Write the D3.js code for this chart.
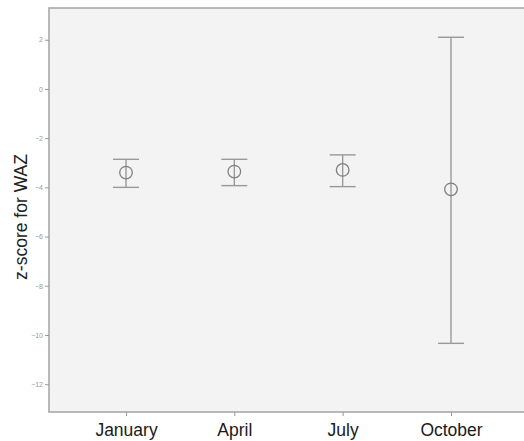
<!DOCTYPE html>
<html>
<head>
<meta charset="utf-8">
<script src="https://cdn.jsdelivr.net/npm/d3@7"></script>
<style>
  body { margin: 0; background: #fff; }
  svg { display: block; font-family: "Liberation Sans", Arial, sans-serif; }
</style>
</head>
<body>
<div id="chart"></div>
<script>
// data
var months = ["January", "April", "July", "October"];
var means  = [-3.40, -3.36, -3.29, -4.08];
var upper  = [-2.86, -2.86, -2.68, 2.10];
var lower  = [-4.00, -3.93, -3.97, -10.34];
var yTicks = [2, 0, -2, -4, -6, -8, -10, -12];

var W = 524, H = 441;
var margin = {top: 8, left: 49, bottom: 29};
var plotRight = 528;

var svg = d3.select("#chart").append("svg")
    .attr("width", W).attr("height", H);

var y = d3.scaleLinear()
    .domain([-13.13, 3.29])
    .range([H - margin.bottom, margin.top]);

var x = d3.scalePoint()
    .domain(months)
    .range([126, 451]);

// plot background + frame
svg.append("rect")
    .attr("x", margin.left).attr("y", margin.top)
    .attr("width", plotRight - margin.left)
    .attr("height", H - margin.bottom - margin.top)
    .attr("fill", "#f3f3f3")
    .attr("stroke", "#a8a8a8")
    .attr("stroke-width", 1.6);

// y axis
var yAxis = svg.append("g")
    .attr("transform", "translate(" + margin.left + ",0)")
    .call(d3.axisLeft(y).tickValues(yTicks).tickSize(4).tickPadding(2).tickFormat(d3.format("d")));
yAxis.select(".domain").remove();
yAxis.selectAll("line").attr("stroke", "#999");
yAxis.selectAll("text").attr("fill", "#999").style("font-size", "7px");

// x axis
var xAxis = svg.append("g")
    .attr("transform", "translate(0," + (H - margin.bottom) + ")")
    .call(d3.axisBottom(x).tickSize(4).tickPadding(8));
xAxis.select(".domain").remove();
xAxis.selectAll("line").attr("stroke", "#999");
xAxis.selectAll("text").attr("fill", "#1a1a1a").style("font-size", "17.5px");

// y label
svg.append("text")
    .attr("transform", "translate(27," + 217 + ") rotate(-90)")
    .style("text-anchor", "middle")
    .style("font-size", "17.5px")
    .attr("fill", "#222")
    .text("z-score for WAZ");

// error bars
var bars = svg.append("g").selectAll("g.bar")
    .data(months.map(function (m, i) { return {m: m, mean: means[i], hi: upper[i], lo: lower[i]}; }))
    .enter().append("g").attr("class", "bar");

bars.append("line")
    .attr("x1", function (d) { return x(d.m); })
    .attr("x2", function (d) { return x(d.m); })
    .attr("y1", function (d) { return y(d.hi); })
    .attr("y2", function (d) { return y(d.lo); })
    .attr("stroke", "#999").attr("stroke-width", 1.4);

bars.append("line")
    .attr("x1", function (d) { return x(d.m) - 13; })
    .attr("x2", function (d) { return x(d.m) + 13; })
    .attr("y1", function (d) { return y(d.hi); })
    .attr("y2", function (d) { return y(d.hi); })
    .attr("stroke", "#999").attr("stroke-width", 1.4);

bars.append("line")
    .attr("x1", function (d) { return x(d.m) - 13; })
    .attr("x2", function (d) { return x(d.m) + 13; })
    .attr("y1", function (d) { return y(d.lo); })
    .attr("y2", function (d) { return y(d.lo); })
    .attr("stroke", "#999").attr("stroke-width", 1.4);

bars.append("circle")
    .attr("cx", function (d) { return x(d.m); })
    .attr("cy", function (d) { return y(d.mean); })
    .attr("r", 6.3)
    .attr("fill", "none")
    .attr("stroke", "#808080").attr("stroke-width", 1.3);
</script>
</body>
</html>
